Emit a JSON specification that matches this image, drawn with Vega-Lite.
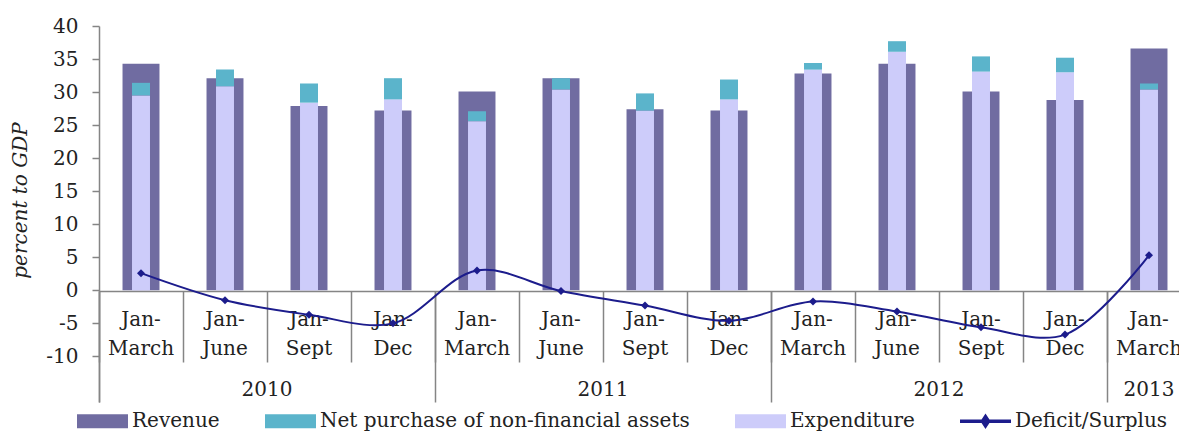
{
  "$schema": "https://vega.github.io/schema/vega-lite/v6.json",
  "autosize": "none",
  "width": 1080,
  "height": 376,
  "padding": {"left": 99, "top": 26, "right": 0, "bottom": 30},
  "config": {"view": {"stroke": null}, "font": "DejaVu Serif"},
  "data": {"values": [
    {"cat": "2010|Jan-|March", "revenue": 34.3, "expenditure": 29.5, "net_purchase": 1.9, "deficit": 2.6},
    {"cat": "2010|Jan-|June", "revenue": 32.1, "expenditure": 30.9, "net_purchase": 2.5, "deficit": -1.5},
    {"cat": "2010|Jan-|Sept", "revenue": 27.9, "expenditure": 28.4, "net_purchase": 2.9, "deficit": -3.7},
    {"cat": "2010|Jan-|Dec", "revenue": 27.2, "expenditure": 28.9, "net_purchase": 3.2, "deficit": -5.0},
    {"cat": "2011|Jan-|March", "revenue": 30.1, "expenditure": 25.6, "net_purchase": 1.5, "deficit": 3.0},
    {"cat": "2011|Jan-|June", "revenue": 32.1, "expenditure": 30.4, "net_purchase": 1.7, "deficit": -0.1},
    {"cat": "2011|Jan-|Sept", "revenue": 27.4, "expenditure": 27.2, "net_purchase": 2.6, "deficit": -2.3},
    {"cat": "2011|Jan-|Dec", "revenue": 27.2, "expenditure": 28.9, "net_purchase": 3.0, "deficit": -4.6},
    {"cat": "2012|Jan-|March", "revenue": 32.8, "expenditure": 33.4, "net_purchase": 1.0, "deficit": -1.7},
    {"cat": "2012|Jan-|June", "revenue": 34.3, "expenditure": 36.1, "net_purchase": 1.6, "deficit": -3.2},
    {"cat": "2012|Jan-|Sept", "revenue": 30.1, "expenditure": 33.1, "net_purchase": 2.3, "deficit": -5.6},
    {"cat": "2012|Jan-|Dec", "revenue": 28.8, "expenditure": 33.0, "net_purchase": 2.2, "deficit": -6.7},
    {"cat": "2013|Jan-|March", "revenue": 36.6, "expenditure": 30.4, "net_purchase": 0.9, "deficit": 5.3}
  ]},
  "resolve": {"axis": {"x": "independent", "y": "independent"}},
  "layer": [
    {
      "mark": {"type": "bar", "width": {"band": 0.44}},
      "encoding": {
        "x": {
          "field": "cat", "type": "nominal", "sort": null,
          "scale": {"type": "band", "range": [0, 1092], "paddingInner": 0, "paddingOuter": 0},
          "axis": {
            "orient": "bottom", "title": null, "offset": -111,
            "domain": true, "domainColor": "#858585", "domainWidth": 1.5,
            "ticks": true, "bandPosition": 0, "tickSize": 71, "tickColor": "#858585", "tickWidth": 1.5,
            "labelAngle": 0, "labelOffset": 0, "labelPadding": -53, "labelAlign": "center", "labelBaseline": "top",
            "labelLineHeight": 29, "labelFont": "DejaVu Serif", "labelFontSize": 20, "labelColor": "#222",
            "labelExpr": "slice(split(datum.value, '|'), 1)", "labelOverlap": false, "labelBound": false, "labelFlush": false
          }
        },
        "y": {
          "field": "revenue", "type": "quantitative",
          "scale": {"domain": [-16.9, 40], "nice": false, "zero": false},
          "axis": {
            "title": "percent to GDP", "titleFont": "DejaVu Serif", "titleFontSize": 20, "titleFontStyle": "italic",
            "titleFontWeight": "normal", "titleColor": "#222", "titleX": -69, "titleY": 174,
            "values": [-10, -5, 0, 5, 10, 15, 20, 25, 30, 35, 40], "grid": false,
            "domainColor": "#858585", "domainWidth": 1.5, "tickColor": "#858585", "tickWidth": 1.5, "tickSize": 7,
            "labelPadding": 14, "labelFont": "DejaVu Serif", "labelFontSize": 20, "labelColor": "#222",
            "labelExpr": "'' + datum.value"
          }
        },
        "color": {
          "datum": "revenue",
          "title": null,
          "scale": {
            "domain": ["revenue", "net_purchase", "expenditure", "deficit"],
            "range": ["#706ca1", "#5bb4cb", "#cdccfa", "#1c1c8c"]
          },
          "legend": {
            "orient": "none", "legendX": -22, "legendY": 369.5, "direction": "horizontal", "columns": 4,
            "title": null, "padding": 0, "columnPadding": 45, "symbolSize": 2601, "labelOffset": 4,
            "labelFont": "DejaVu Serif", "labelFontSize": 20, "labelColor": "#222", "labelLimit": 600,
            "symbolStrokeWidth": 0,
            "labelExpr": "datum.value == 'revenue' ? 'Revenue' : datum.value == 'net_purchase' ? 'Net purchase of non-financial assets' : datum.value == 'expenditure' ? 'Expenditure' : 'Deficit/Surplus'",
            "encode": {"symbols": {"update": {
              "shape": {"signal": "datum.value == 'deficit' ? 'M-1,-0.07H1V0.07H-1Z M0,-0.3L0.2,0L0,0.3L-0.2,0Z' : 'M-1,-0.275H1V0.275H-1Z'"},
              "opacity": {"value": 1}
            }}}
          }
        }
      }
    },
    {
      "transform": [{"fold": ["expenditure", "net_purchase"], "as": ["series", "value"]}],
      "mark": {"type": "bar", "width": {"band": 0.214}},
      "encoding": {
        "x": {"field": "cat", "type": "nominal", "sort": null, "axis": null,
              "scale": {"type": "band", "range": [0, 1092], "paddingInner": 0, "paddingOuter": 0}},
        "y": {"field": "value", "type": "quantitative", "stack": "zero", "axis": null},
        "color": {"field": "series", "type": "nominal", "title": null, "legend": {"title": null}},
        "order": {"field": "series", "sort": "ascending"}
      }
    },
    {
      "mark": {"type": "line", "interpolate": "catmull-rom", "strokeWidth": 2, "color": "#1c1c8c",
               "point": {"shape": "diamond", "size": 64, "filled": true, "color": "#1c1c8c", "opacity": 1}},
      "encoding": {
        "x": {
          "field": "cat", "type": "nominal", "sort": null,
          "scale": {"type": "band", "range": [0, 1092], "paddingInner": 0, "paddingOuter": 0},
          "axis": {
            "orient": "bottom", "title": null, "offset": -111, "domain": false,
            "values": ["2010|Jan-|March", "2011|Jan-|March", "2012|Jan-|March", "2013|Jan-|March"],
            "ticks": true, "bandPosition": 0, "tickSize": 111, "tickColor": "#858585", "tickWidth": 1.5,
            "labelAngle": 0, "labelPadding": -22.5, "labelAlign": "center", "labelBaseline": "top",
            "labelOffset": {"condition": {"test": "indexof(datum.value, '2013') >= 0", "value": 0}, "value": 126},
            "labelFont": "DejaVu Serif", "labelFontSize": 20, "labelColor": "#222",
            "labelExpr": "split(datum.value, '|')[0]", "labelOverlap": false, "labelBound": false, "labelFlush": false
          }
        },
        "y": {"field": "deficit", "type": "quantitative", "axis": null},
        "color": {"datum": "deficit", "title": null}
      }
    }
  ]
}
